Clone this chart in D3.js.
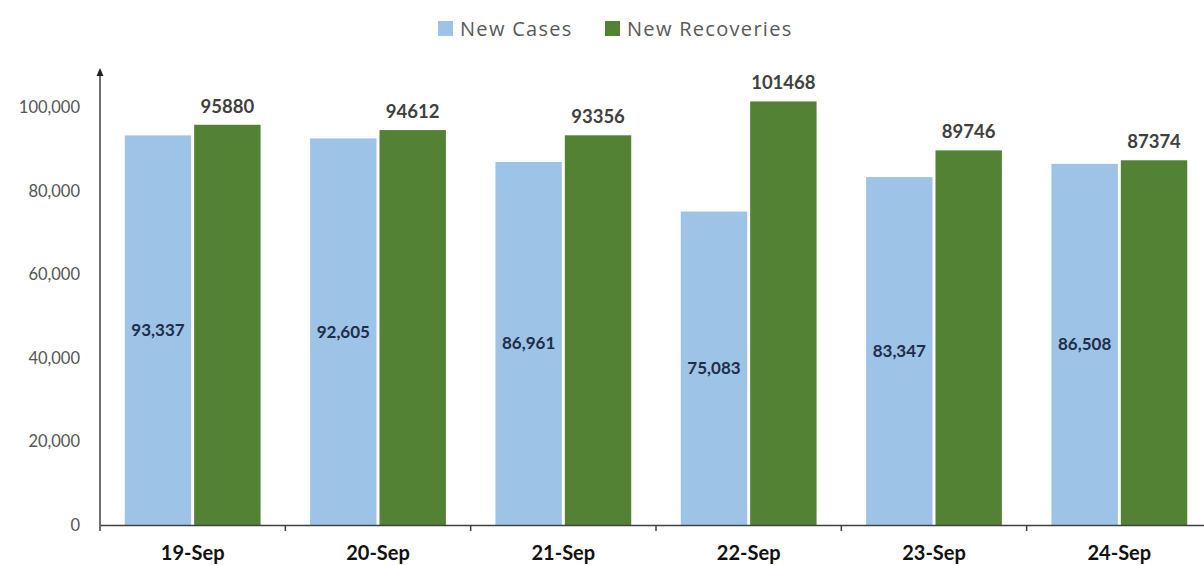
<!DOCTYPE html>
<html><head><meta charset="utf-8">
<script src="https://cdn.jsdelivr.net/npm/d3@7"></script>
<style>body{margin:0;background:#fff}svg{display:block}</style>
</head><body>
<svg id="c" width="1204" height="565"></svg>
<script>
const categories = ["19-Sep","20-Sep","21-Sep","22-Sep","23-Sep","24-Sep"];
const newCases = [93337, 92605, 86961, 75083, 83347, 86508];
const newRecoveries = [95880, 94612, 93356, 101468, 89746, 87374];
const yTicks = [0, 20000, 40000, 60000, 80000, 100000];
const seriesNames = ["New Cases", "New Recoveries"];
const colors = ["#9dc3e6", "#548235"];

const svg = d3.select("#c");
const x = d3.scaleBand().domain(categories).range([100, 1212]).paddingInner(0).paddingOuter(0);
const x1 = d3.scaleBand().domain(seriesNames).range([0, x.bandwidth()]).paddingOuter(0.357).paddingInner(0.043);
const y = d3.scaleLinear().domain([0, 109000]).range([525, 70]);
const font = "Lato, 'Open Sans', sans-serif";

// bars
const g = svg.append("g");
categories.forEach((c, i) => {
  const vals = [newCases[i], newRecoveries[i]];
  vals.forEach((v, j) => {
    g.append("rect")
      .attr("x", x(c) + x1(seriesNames[j]))
      .attr("y", y(v))
      .attr("width", x1.bandwidth())
      .attr("height", y(0) - y(v))
      .attr("fill", colors[j]);
  });
  g.append("text")
    .attr("x", x(c) + x1(seriesNames[0]) + x1.bandwidth()/2)
    .attr("y", (y(newCases[i]) + y(0))/2 + 6)
    .attr("text-anchor", "middle")
    .attr("font-family", font).attr("font-weight", "bold").attr("font-size", 17)
    .attr("fill", "#1f2d4a")
    .text(d3.format(",")(newCases[i]));
  g.append("text")
    .attr("x", x(c) + x1(seriesNames[1]) + x1.bandwidth()/2)
    .attr("y", y(newRecoveries[i]) - 12)
    .attr("text-anchor", "middle")
    .attr("font-family", font).attr("font-weight", "bold").attr("font-size", 18.5)
    .attr("fill", "#404040")
    .text(newRecoveries[i]);
});

// y axis
const yAxis = d3.axisLeft(y).tickValues(yTicks).tickFormat(d3.format(",")).tickSize(0).tickPadding(20);
const ya = svg.append("g").attr("transform", "translate(100,0)").call(yAxis);
ya.select(".domain").remove();
ya.selectAll("text").attr("font-family", font).attr("font-size", 16.5).attr("fill", "#555");
svg.append("line").attr("x1", 100).attr("x2", 100).attr("y1", y(0)).attr("y2", 74)
  .attr("stroke", "#404040").attr("stroke-width", 1.5);
svg.append("path").attr("d", "M100,68 L96.5,76 L103.5,76 Z").attr("fill", "#222");

// x axis
const xa = svg.append("g").attr("transform", `translate(0,${y(0)})`)
  .call(d3.axisBottom(x).tickSize(0).tickPadding(21));
xa.select(".domain").attr("stroke", "#404040").attr("stroke-width", 1.5);
xa.selectAll("text").attr("font-family", font).attr("font-weight", "bold").attr("font-size", 20).attr("fill", "#111");
categories.forEach(c => {
  svg.append("line").attr("x1", x(c)).attr("x2", x(c)).attr("y1", y(0)).attr("y2", y(0) + 6)
    .attr("stroke", "#404040").attr("stroke-width", 1.5);
});

// legend
const leg = [{x: 438}, {x: 605}];
seriesNames.forEach((s, i) => {
  svg.append("rect").attr("x", leg[i].x).attr("y", 21).attr("width", 15).attr("height", 15).attr("fill", colors[i]);
  svg.append("text").attr("x", leg[i].x + 22).attr("y", 36)
    .attr("font-family", "'Open Sans', sans-serif").attr("font-size", 20).attr("letter-spacing", 1.3)
    .attr("fill", "#595959").text(s);
});
</script>
</body></html>
